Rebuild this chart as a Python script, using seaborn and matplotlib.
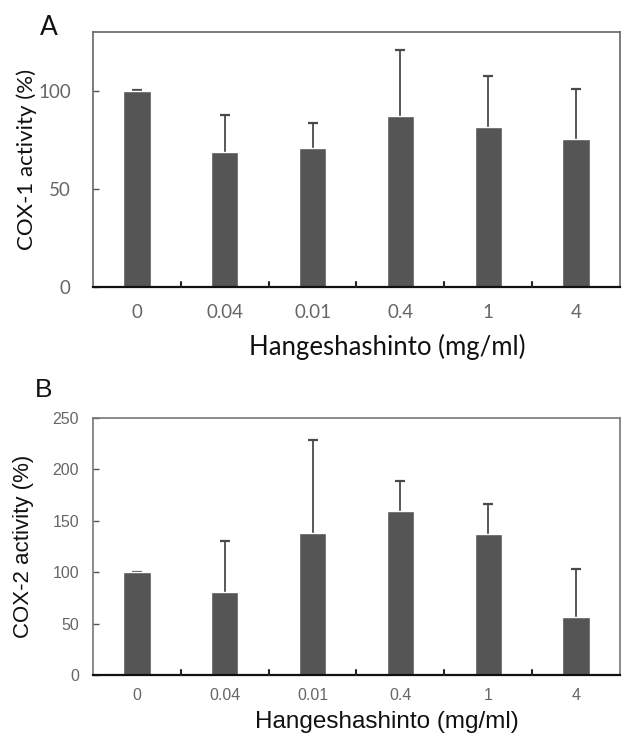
import numpy as np
import pandas as pd
import matplotlib
matplotlib.use("Agg")
import matplotlib.pyplot as plt
import seaborn as sns

# data
doses = ["0", "0.04", "0.01", "0.4", "1", "4"]
cox1_mean = [100, 69, 70.8, 87.4, 81.5, 75.4]
cox1_err = [0.4, 18.7, 12.7, 33.5, 26.1, 25.4]
cox2_mean = [100, 81, 138.6, 159.7, 136.7, 56.7]
cox2_err = [0.5, 49.2, 90.4, 29.1, 29.7, 46.0]

BAR = "#555555"

sns.set_theme(style="white")

fig = plt.figure(figsize=(6.22, 7.37), dpi=100)
ax1 = fig.add_axes([0.1495, 0.6106, 0.8473, 0.346])
ax2 = fig.add_axes([0.1495, 0.0841, 0.8473, 0.3487])


def draw_panel(ax, mean, err, ylim, yticks, ylabel, letter, font, tick_size,
               frame_col, xpad, ypad, ylab_xy, xlab_xy, xlab_size, letter_x, letter_y):
    df = pd.DataFrame({"dose": doses, "val": mean})
    sns.barplot(data=df, x="dose", y="val", order=doses, color=BAR,
                saturation=1, width=0.31, errorbar=None, ax=ax, zorder=2)
    x = np.arange(len(doses))
    top = np.array(mean) + np.array(err)
    # upper error bars only, cap on top
    ax.vlines(x, mean, top, color="#4a4a4a", lw=1.3, zorder=1)
    ax.plot(x, top, ls="none", marker="_", ms=7, mew=1.6, color="#4a4a4a", zorder=1)

    ax.set_xlim(-0.5, len(doses) - 0.5)
    ax.set_ylim(*ylim)
    ax.set_yticks(yticks)
    ax.set_yticklabels([str(t) for t in yticks], fontsize=tick_size,
                       color="#666666", family=font)
    ax.set_xticks(x)
    ax.set_xticklabels(doses, fontsize=tick_size, color="#666666", family=font)
    ax.tick_params(axis="x", length=0, pad=xpad)
    ax.tick_params(axis="y", direction="in", length=4, width=1, color="#555555",
                   pad=ypad, left=True)
    # boundary ticks between categories
    for b in np.arange(0.5, len(doses) - 0.5):
        ax.plot([b, b], [ylim[0], ylim[0] + (ylim[1] - ylim[0]) * 0.02],
                color="#222222", lw=1.5, clip_on=False, zorder=3)

    for s in ["top", "right", "left"]:
        ax.spines[s].set_color(frame_col)
        ax.spines[s].set_linewidth(1.2)
    ax.spines["bottom"].set_color("#111111")
    ax.spines["bottom"].set_linewidth(1.6)

    ax.set_xlabel("Hangeshashinto (mg/ml)", fontsize=xlab_size, color="#111111", family=font)
    ax.xaxis.set_label_coords(*xlab_xy)
    ax.set_ylabel(ylabel, fontsize=16, color="#111111", family=font)
    ax.yaxis.set_label_coords(*ylab_xy)
    ax.grid(False)
    ax.text(letter_x, letter_y, letter, transform=ax.transAxes, fontsize=19,
            family=font, color="#111111", ha="center", va="baseline")


draw_panel(ax1, cox1_mean, cox1_err, (0, 130), [0, 50, 100],
           "COX-1 activity (%)", "A", "Lato", 13.5, "#666666",
           xpad=12, ypad=16, ylab_xy=(-0.106, 0.5), xlab_xy=(0.558, -0.185),
           xlab_size=18.5, letter_x=-0.083, letter_y=0.988)
draw_panel(ax2, cox2_mean, cox2_err, (0, 250), [0, 50, 100, 150, 200, 250],
           "COX-2 activity (%)", "B", "Liberation Sans", 11.5, "#777777",
           xpad=9, ypad=10, ylab_xy=(-0.112, 0.5), xlab_xy=(0.558, -0.14),
           xlab_size=17.5, letter_x=-0.093, letter_y=1.08)

fig.savefig("out.png", dpi=100, facecolor="white")
